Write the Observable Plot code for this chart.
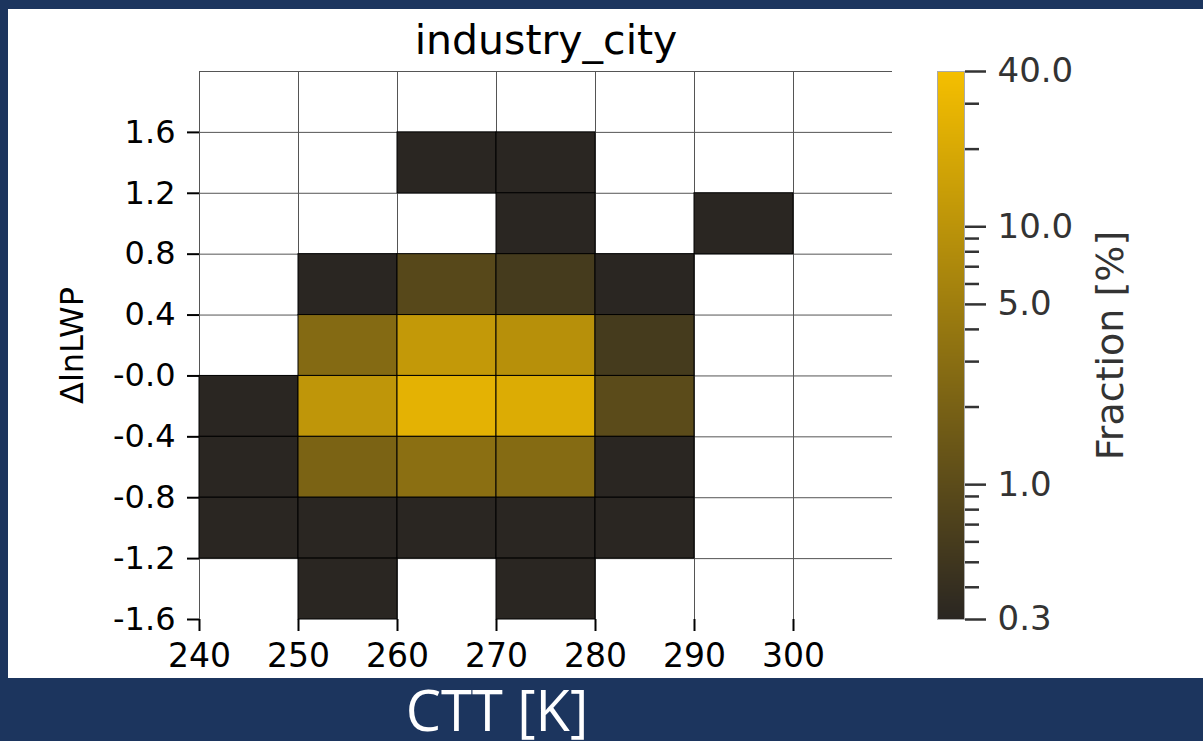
<!DOCTYPE html>
<html>
<head>
<meta charset="utf-8">
<script src="https://cdn.jsdelivr.net/npm/d3@7"></script>
<script src="https://cdn.jsdelivr.net/npm/@observablehq/plot@0.6"></script>
<style>
  html, body { margin: 0; padding: 0; width: 1203px; height: 741px; overflow: hidden; background: #1c355e; }
  #panel { position: absolute; left: 8px; top: 9px; width: 1195px; height: 669px; background: #fff; }
  #panel svg { position: absolute; top: 0; }
  #heat svg { left: 0; }
  #bar svg { left: 929px; }
  #xlabel { position: absolute; left: 347px; width: 300px; top: 681px; text-align: center;
            font-family: "Open Sans", sans-serif; font-size: 56px; line-height: 56px; color: #fff; }
</style>
</head>
<body>
<div id="panel"><div id="heat"></div><div id="bar"></div></div>
<div id="xlabel">CTT [K]</div>
<script>
// Joint histogram of cloud-top temperature vs. change in ln(LWP), share of samples in %
const cttBin = [260, 270,
                270, 290,
                250, 260, 270, 280,
                250, 260, 270, 280,
                240, 250, 260, 270, 280,
                240, 250, 260, 270, 280,
                240, 250, 260, 270, 280,
                250, 270];
const lwpBin = [1.2, 1.2,
                0.8, 0.8,
                0.4, 0.4, 0.4, 0.4,
                0.0, 0.0, 0.0, 0.0,
                -0.4, -0.4, -0.4, -0.4, -0.4,
                -0.8, -0.8, -0.8, -0.8, -0.8,
                -1.2, -1.2, -1.2, -1.2, -1.2,
                -1.6, -1.6];
const fraction = [0.2, 0.2,
                  0.2, 0.2,
                  0.25, 0.89, 0.58, 0.22,
                  2.6, 12.0, 9.0, 0.58,
                  0.25, 10.9, 26.5, 21.9, 0.98,
                  0.25, 2.1, 3.1, 2.7, 0.22,
                  0.25, 0.25, 0.25, 0.25, 0.25,
                  0.2, 0.2];

const cttStep = 10;
const lwpStep = 0.4;

const xTicks = [240, 250, 260, 270, 280, 290, 300];
const yTicks = [-1.6, -1.2, -0.8, -0.4, 0.0, 0.4, 0.8, 1.2, 1.6];
const yTickLabels = ["-1.6", "-1.2", "-0.8", "-0.4", "-0.0", "0.4", "0.8", "1.2", "1.6"];
const yGrid = [-1.2, -0.8, -0.4, 0.0, 0.4, 0.8, 1.2, 1.6, 2.0];

const barMajor = [0.3, 1, 5, 10, 40];
const barMinor = [0.4, 0.5, 0.6, 0.7, 0.8, 0.9, 2, 3, 4, 6, 7, 8, 9, 20, 30];

const cells = cttBin.map((c, i) => ({ctt: c, lwp: lwpBin[i], fraction: fraction[i]}));
const yLabelOf = new Map(yTicks.map((v, i) => [v, yTickLabels[i]]));

const colorScale = {
  type: "log", domain: [0.3, 40], range: ["#2a2622", "#f5bf00"],
  interpolate: "rgb", clamp: true
};

const heat = Plot.plot({
  width: 1195, height: 669,
  marginLeft: 191, marginRight: 311, marginTop: 62, marginBottom: 59,
  style: {fontFamily: "DejaVu Sans", background: "transparent", color: "#000", overflow: "visible"},
  x: {domain: [240, 310]},
  y: {domain: [-1.6, 2.0]},
  color: colorScale,
  marks: [
    Plot.ruleY(yGrid, {x1: 240, x2: 310, stroke: "#555", strokeWidth: 1}),
    Plot.ruleX(xTicks, {y1: -1.6, y2: 2.0, stroke: "#555", strokeWidth: 1}),
    Plot.rect(cells, {
      x1: "ctt", x2: d => d.ctt + cttStep,
      y1: "lwp", y2: d => d.lwp + lwpStep,
      fill: "fraction", stroke: "#000", strokeWidth: 1
    }),
    Plot.axisX(xTicks, {tickSize: 12, tickPadding: 12, fontSize: 33, strokeWidth: 2,
                        tickFormat: d => String(d), label: null}),
    Plot.axisY(yTicks, {tickSize: 12, tickPadding: 12, fontSize: 32, strokeWidth: 2,
                        tickFormat: d => yLabelOf.get(d), label: null}),
    Plot.text(["industry_city"], {frameAnchor: "top", dy: -47, fontSize: 41, fill: "#000"}),
    Plot.text(["ΔlnLWP"], {frameAnchor: "left", rotate: -90, dx: -127, fontSize: 32,
                           textAnchor: "middle", fill: "#000"})
  ]
});
document.getElementById("heat").append(heat);

// Colour bar on a log axis
const bar = Plot.plot({
  width: 266, height: 669,
  marginLeft: 0, marginRight: 239, marginTop: 62, marginBottom: 59,
  style: {fontFamily: "DejaVu Sans", background: "transparent", color: "#333", overflow: "visible"},
  x: {domain: [0, 1], axis: null},
  y: {type: "log", domain: [0.3, 40]},
  color: colorScale,
  marks: [
    Plot.raster({fill: (x, y) => y, x1: 0, x2: 1, y1: 0.3, y2: 40, pixelSize: 1}),
    Plot.frame({stroke: "#aaa", strokeWidth: 1}),
    Plot.axisY(barMinor, {anchor: "right", tickSize: 14, strokeWidth: 2.5,
                          tickFormat: () => "", label: null}),
    Plot.axisY(barMajor, {anchor: "right", tickSize: 21, tickPadding: 12, strokeWidth: 2.5,
                          fontSize: 34, tickFormat: d => d.toFixed(1), label: null}),
    Plot.text(["Fraction [%]"], {frameAnchor: "right", rotate: -90, dx: 146, fontSize: 38,
                                 textAnchor: "middle", fill: "#333"})
  ]
});
document.getElementById("bar").append(bar);
</script>
</body>
</html>
